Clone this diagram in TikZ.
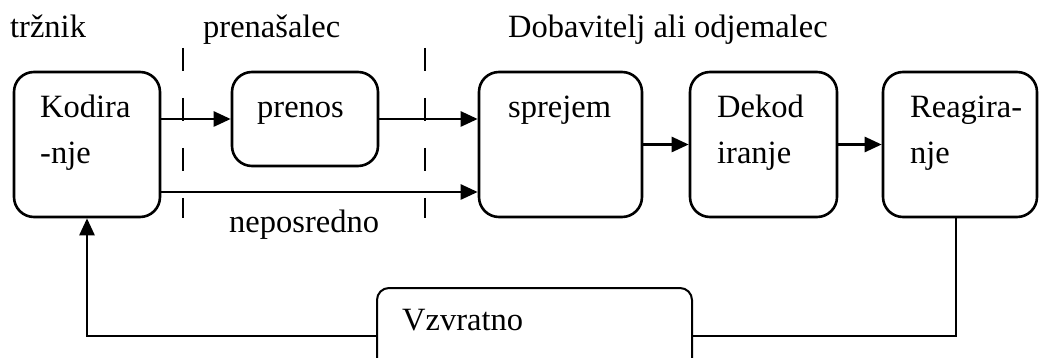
\documentclass[tikz,border=0pt]{standalone}
\usepackage{fontspec}
\setmainfont{Liberation Serif}
\usetikzlibrary{arrows.meta}
\begin{document}
\begin{tikzpicture}[x=1pt,y=-1pt,
  box/.style={draw, line width=2.6pt, rounded corners=20pt, inner sep=0pt},
  txt/.style={anchor=base west, inner sep=0pt, font=\fontsize{32.5}{38}\selectfont},
  arr/.style={line width=2.6pt, -{Triangle[length=17pt,width=15pt]}},
  sep/.style={line width=2pt, dash pattern=on 23pt off 27pt}]
\useasboundingbox (0,0) rectangle (1039,358);
% boxes
\node[box, minimum width=146pt, minimum height=145pt] (K) at (87,144.5) {};
\node[box, minimum width=146pt, minimum height=94pt] (P) at (305,119) {};
\node[box, minimum width=163pt, minimum height=145pt] (S) at (560.5,144.5) {};
\node[box, minimum width=147pt, minimum height=145pt] (D) at (763.5,144.5) {};
\node[box, minimum width=154pt, minimum height=145pt] (R) at (960,144.5) {};
\node[box, line width=2pt, rounded corners=12pt, minimum width=315pt, minimum height=96pt] (F) at (534.5,336) {};
% box texts
\node[txt] (k1) at (40,118) {Kodira};
\node[txt] (k2) at (40,164) {-nje};
\node[txt] (p1) at (257,118) {prenos};
\node[txt] (s1) at (508,118) {sprejem};
\node[txt] (d1) at (717,118) {Dekod};
\node[txt] (d2) at (717,164) {iranje};
\node[txt] (r1) at (910,118) {Reagira-};
\node[txt] (r2) at (910,164) {nje};
\node[txt] (f1) at (402,330) {Vzvratno};
% labels
\node[txt] (l1) at (10,38) {tržnik};
\node[txt] (l2) at (203,38) {prenašalec};
\node[txt] (l3) at (508,38) {Dobavitelj ali odjemalec};
\node[txt] (l4) at (229,233) {neposredno};
% separators
\draw[sep] (183,48) -- (183,218);
\draw[sep] (425,48) -- (425,218);
% connectors
\draw[arr] (K.east |- P.west) -- (P.west);
\draw[arr] (P.east) -- (S.west |- P.east);
\draw[arr] ([yshift=-47.5pt]K.east) -- ([yshift=-47.5pt]S.west);
\draw[arr] (S.east) -- (D.west);
\draw[arr] (D.east) -- (R.west);
\draw[line width=1.5pt] ([xshift=-4pt]R.south) |- (F.east);
\draw[arr] (F.west) -| (K.south);
\end{tikzpicture}
\end{document}
